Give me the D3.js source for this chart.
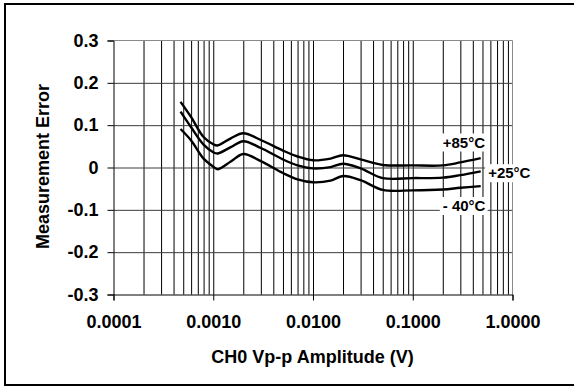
<!DOCTYPE html>
<html>
<head>
<meta charset="utf-8">
<script src="https://cdn.jsdelivr.net/npm/d3@7"></script>
<style>
body { margin: 0; background: #fff; }
svg { display: block; font-family: "Liberation Sans", Arial, sans-serif; font-weight: bold; }
</style>
</head>
<body>
<script>
// CH0 amplitude (V) and measurement error per temperature
const amplitude = [0.00047, 0.0006, 0.0008, 0.001, 0.0011, 0.0015, 0.002, 0.003, 0.005, 0.007,
                   0.01, 0.015, 0.02, 0.03, 0.05, 0.1, 0.2, 0.3, 0.48];
const err85  = [0.155, 0.119, 0.072, 0.055, 0.052, 0.069, 0.081, 0.065, 0.040, 0.026,
                0.017, 0.021, 0.029, 0.019, 0.006, 0.005, 0.005, 0.012, 0.022];
const err25  = [0.132, 0.095, 0.054, 0.036, 0.033, 0.048, 0.062, 0.046, 0.019, 0.005,
                -0.002, 0.001, 0.009, -0.002, -0.025, -0.025, -0.024, -0.018, -0.009];
const errM40 = [0.091, 0.064, 0.021, 0.002, -0.004, 0.014, 0.032, 0.015, -0.013, -0.028,
                -0.035, -0.031, -0.020, -0.030, -0.053, -0.054, -0.052, -0.048, -0.044];

const seriesNames = ["+85°C", "+25°C", "- 40°C"];
const seriesValues = [err85, err25, errM40];
const labelX = [0.2, 0.57, 0.2];
const labelY = [0.06, -0.0125, -0.09];

const xTicks = [0.0001, 0.001, 0.01, 0.1, 1];
const xTickLabels = ["0.0001", "0.0010", "0.0100", "0.1000", "1.0000"];
const yTicks = [-0.3, -0.2, -0.1, 0, 0.1, 0.2, 0.3];
const yTickLabels = ["-0.3", "-0.2", "-0.1", "0", "0.1", "0.2", "0.3"];

const W = 574, H = 387;
const plotL = 113.5, plotR = 512.5, plotT = 40.5, plotB = 294.5;

const svg = d3.select("body").append("svg")
    .attr("width", W)
    .attr("height", H);

// outer frame (right edge is cut off in the original)
svg.append("rect")
    .attr("x", 5).attr("y", 4)
    .attr("width", 620).attr("height", 381)
    .attr("fill", "none").attr("stroke", "#000").attr("stroke-width", 2);

const x = d3.scaleLog().domain([0.0001, 1]).range([plotL, plotR]);
const y = d3.scaleLinear().domain([-0.3, 0.3]).range([plotB, plotT]);

// minor log gridlines 2..9 and decades
let gridX = [];
for (let e = -4; e < 0; e++) {
    for (let m = 1; m <= 9; m++) {
        let v = m * Math.pow(10, e);
        if (v > 0.0001) gridX.push(v);
    }
}

const gx = svg.append("g")
    .attr("transform", `translate(0,${plotB})`)
    .call(d3.axisBottom(x).tickValues(gridX).tickSize(-(plotB - plotT)).tickFormat(""));
gx.select(".domain").remove();
gx.selectAll("line").attr("stroke", "#000").attr("stroke-width", 1);

const gy = svg.append("g")
    .attr("transform", `translate(${plotL},0)`)
    .call(d3.axisLeft(y).tickValues([-0.2, -0.1, 0, 0.1, 0.2]).tickSize(-(plotR - plotL)).tickFormat(""));
gy.select(".domain").remove();
gy.selectAll("line").attr("stroke", "#3c3c3c").attr("stroke-width", 1);

// top and right border of plot
svg.append("path")
    .attr("d", `M${plotL},${plotT}H${plotR}V${plotB}`)
    .attr("fill", "none").attr("stroke", "#8a8a8a").attr("stroke-width", 1);

// label backgrounds + texts
const labelG = svg.append("g");
seriesNames.forEach((name, i) => {
    let t = labelG.append("text")
        .attr("x", x(labelX[i]))
        .attr("y", y(labelY[i]))
        .attr("dy", "0.36em")
        .attr("font-size", 15)
        .attr("fill", "#000")
        .text(name);
    let b = t.node().getBBox();
    labelG.insert("rect", "text")
        .attr("x", b.x - 3).attr("y", b.y)
        .attr("width", b.width + 5).attr("height", b.height + 1)
        .attr("fill", "#fff");
});

// curves
const line = d3.line()
    .x((d, i) => x(amplitude[i]))
    .y(d => y(d))
    .curve(d3.curveCatmullRom.alpha(0.5));

svg.append("g").selectAll("path")
    .data(seriesValues)
    .enter().append("path")
    .attr("d", d => line(d))
    .attr("fill", "none")
    .attr("stroke", "#000")
    .attr("stroke-width", 2.4);

// axes
const xAxis = svg.append("g")
    .attr("transform", `translate(0,${plotB})`)
    .call(d3.axisBottom(x).tickValues(xTicks).tickSize(6).tickPadding(15)
        .tickFormat((d, i) => xTickLabels[i]));
xAxis.selectAll("line, path").attr("stroke", "#000");
xAxis.selectAll("text").attr("font-size", 18).attr("fill", "#000");
xAxis.attr("font-family", null).attr("font-size", null);

const yAxis = svg.append("g")
    .attr("transform", `translate(${plotL},0)`)
    .call(d3.axisLeft(y).tickValues(yTicks).tickSize(6).tickPadding(9)
        .tickFormat((d, i) => yTickLabels[i]));
yAxis.selectAll("line, path").attr("stroke", "#000");
yAxis.selectAll("text").attr("font-size", 18).attr("fill", "#000");
yAxis.attr("font-family", null).attr("font-size", null);

// titles
svg.append("text")
    .attr("x", 312.5).attr("y", 363)
    .attr("text-anchor", "middle")
    .attr("font-size", 18)
    .text("CH0 Vp-p Amplitude (V)");

svg.append("text")
    .attr("transform", "translate(48.5,166.5) rotate(-90)")
    .attr("text-anchor", "middle")
    .attr("font-size", 18)
    .text("Measurement Error");
</script>
</body>
</html>
